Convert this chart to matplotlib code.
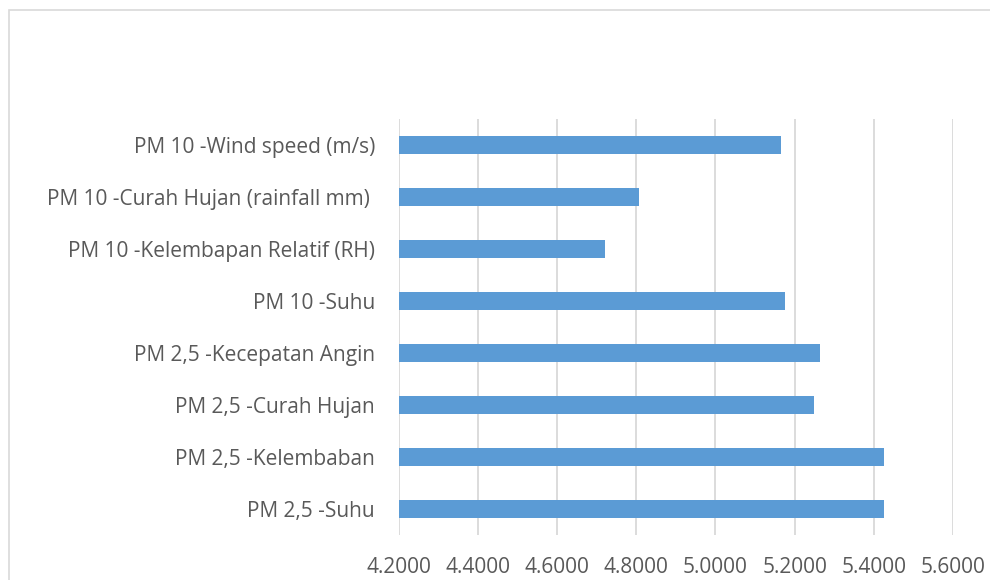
import numpy as np
import matplotlib.pyplot as plt
from matplotlib.patches import Rectangle

labels = [
    "PM 2,5 -Suhu",
    "PM 2,5 -Kelembaban",
    "PM 2,5 -Curah Hujan",
    "PM 2,5 -Kecepatan Angin",
    "PM 10 -Suhu",
    "PM 10 -Kelembapan Relatif (RH)",
    "PM 10 -Curah Hujan (rainfall mm) ",
    "PM 10 -Wind speed (m/s)",
]
values = [5.426, 5.427, 5.250, 5.265, 5.175, 4.720, 4.807, 5.166]
ticks = [4.2, 4.4, 4.6, 4.8, 5.0, 5.2, 5.4, 5.6]

plt.rcParams['font.family'] = ['Open Sans', 'DejaVu Sans']

fig = plt.figure(figsize=(9.9, 5.8), dpi=100)
ax = fig.add_axes([0.4027, 0.0776, 0.5599, 0.717])

# outer chart border (cut off at right and bottom like the screenshot)
fig.patches.append(Rectangle((9 / 990, -0.1), 1.2, 1 - 10 / 580 + 0.1,
                             transform=fig.transFigure, fill=False,
                             edgecolor="#d9d9d9", linewidth=1.2))

y = np.arange(len(labels))
ax.barh(y, np.array(values) - 4.2, left=4.2, height=0.354, color="#5B9BD5",
        zorder=3)

ax.set_xlim(4.2, 5.6)
ax.set_ylim(-0.5, len(labels) - 0.5)
ax.set_xticks(ticks)
ax.set_xticklabels([f"{t:.4f}" for t in ticks])
ax.set_yticks(y)
ax.set_yticklabels(labels)

ax.grid(axis="x", color="#d9d9d9", linewidth=1.3, zorder=0)
for s in ax.spines.values():
    s.set_visible(False)
ax.tick_params(axis="both", length=0, labelsize=15, colors="#595959")
ax.tick_params(axis="y", pad=17)
ax.tick_params(axis="x", pad=16)

fig.savefig("out.png", dpi=100)
